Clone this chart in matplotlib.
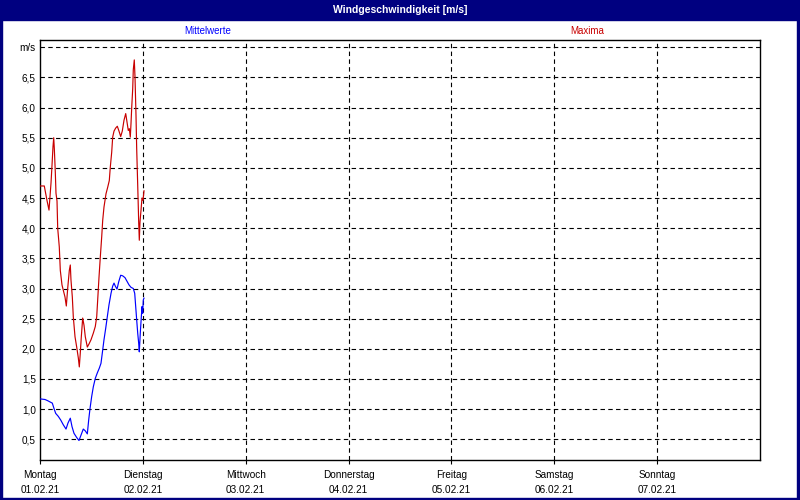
import matplotlib
matplotlib.use("Agg")
import matplotlib.pyplot as plt
from matplotlib.patches import Rectangle

# Stunden ab Montag 00:00 und Windwerte (m/s)
stundenMax = [0.0, 1.0, 1.63, 2.1, 2.57, 2.8, 3.03, 3.2, 3.34, 3.57, 3.73, 3.97, 4.13, 4.5,
              4.74, 5.13, 5.44, 5.83, 6.14, 6.46, 6.84, 7.07, 7.23, 7.54, 7.77, 8.17, 8.56,
              8.94, 9.17, 9.4, 9.64, 9.96, 10.27, 10.57, 11.04, 11.43, 11.9, 12.44, 12.9,
              13.23, 13.46, 13.77, 14.07, 14.4, 14.63, 14.93, 15.4, 15.8, 16.17, 16.4,
              16.73, 16.96, 17.27, 17.66, 18.04, 18.43, 18.83, 19.2, 19.6, 20.0, 20.3,
              20.6, 20.84, 21.07, 21.23, 21.4, 21.63, 21.77, 22.0, 22.17, 22.4, 22.56,
              22.8, 23.03, 23.17, 23.33, 23.57, 23.8, 24.03, 24.27]
maxima = [4.70, 4.70, 4.46, 4.30, 4.75, 5.04, 5.35, 5.50, 5.32, 4.93, 4.58, 4.45, 4.00, 3.69,
          3.30, 3.06, 2.97, 2.86, 2.71, 3.00, 3.30, 3.39, 3.14, 2.86, 2.53, 2.20, 2.03,
          1.85, 1.70, 1.93, 2.20, 2.51, 2.39, 2.20, 2.03, 2.08, 2.15, 2.26, 2.37,
          2.53, 2.81, 3.19, 3.52, 3.86, 4.13, 4.35, 4.57, 4.68, 4.79, 5.01,
          5.26, 5.51, 5.61, 5.66, 5.69, 5.61, 5.52, 5.61, 5.79, 5.90, 5.76,
          5.62, 5.65, 5.51, 5.73, 6.00, 6.31, 6.63, 6.79, 6.50, 5.87, 5.32,
          4.71, 4.10, 3.80, 4.10, 4.30, 4.50, 4.46, 4.62]

stundenMittel = [0.0, 1.17, 1.8, 2.33, 2.87, 3.27, 3.66, 4.27, 4.83, 5.44, 6.07, 6.53, 7.07,
                 7.47, 7.93, 8.56, 9.1, 9.57, 10.1, 10.57, 11.04, 11.36, 11.67, 12.06,
                 12.44, 12.9, 13.37, 13.84, 14.23, 14.54, 14.93, 15.33, 15.7, 16.1, 16.57,
                 16.96, 17.27, 17.57, 17.97, 18.36, 18.83, 19.3, 19.83, 20.3, 20.77, 21.23,
                 21.77, 22.1, 22.33, 22.56, 22.8, 23.03, 23.17, 23.4, 23.64, 23.8, 23.96,
                 24.1, 24.27]
mittelwerte = [1.17, 1.16, 1.14, 1.12, 1.10, 1.01, 0.93, 0.88, 0.82, 0.74, 0.67, 0.77, 0.85,
               0.71, 0.60, 0.53, 0.48, 0.57, 0.67, 0.64, 0.59, 0.82, 1.01, 1.21,
               1.37, 1.51, 1.60, 1.68, 1.76, 1.93, 2.15, 2.34, 2.53, 2.73, 2.92,
               3.04, 3.09, 3.04, 2.99, 3.11, 3.22, 3.21, 3.18, 3.12, 3.06, 3.02,
               3.00, 2.92, 2.70, 2.48, 2.26, 2.09, 1.95, 2.26, 2.53, 2.70, 2.59,
               2.81, 2.84]

tage = ["Montag", "Dienstag", "Mittwoch", "Donnerstag", "Freitag", "Samstag", "Sonntag"]
daten = ["01.02.21", "02.02.21", "03.02.21", "04.02.21", "05.02.21", "06.02.21", "07.02.21"]
yWerte = [0.5, 1.0, 1.5, 2.0, 2.5, 3.0, 3.5, 4.0, 4.5, 5.0, 5.5, 6.0, 6.5, 7.0]

NAVY = "#000080"
ROT = "#C80000"
BLAU = "#0000FF"

plt.rcParams["font.family"] = ["Liberation Sans", "DejaVu Sans"]

fig = plt.figure(figsize=(8, 5), dpi=100)
fig.patch.set_facecolor("white")

# Fensterrahmen und Titelleiste
fig.patches.append(Rectangle((0, 0.96), 1, 0.04, transform=fig.transFigure, color=NAVY, zorder=0))
fig.patches.append(Rectangle((0, 0), 0.0025, 1, transform=fig.transFigure, color=NAVY, zorder=0))
fig.patches.append(Rectangle((0.9965, 0), 0.0035, 1, transform=fig.transFigure, color=NAVY, zorder=0))
fig.patches.append(Rectangle((0, 0), 1, 0.005, transform=fig.transFigure, color=NAVY, zorder=0))
fig.text(0.5, 0.98, "Windgeschwindigkeit [m/s]", color="white", fontweight="bold",
         fontsize=7.5, ha="center", va="center")

fig.text(0.26, 0.938, "Mittelwerte", color=BLAU, fontsize=7, ha="center", va="center")
fig.text(0.734, 0.938, "Maxima", color=ROT, fontsize=7, ha="center", va="center")

ax = fig.add_axes([0.05, 0.08, 0.9, 0.84])
ax.set_facecolor("white")

xMax = [h / 24 for h in stundenMax]
xMittel = [h / 24 for h in stundenMittel]
ax.plot(xMax, maxima, color=ROT, linewidth=0.85, zorder=3)
ax.plot(xMittel, mittelwerte, color=BLAU, linewidth=0.85, zorder=3)

ax.set_xlim(0, 7)
ax.set_ylim(0.157, 7.12)

# Gitterlinien
for y in yWerte:
    ax.axhline(y, color="black", linewidth=0.8, linestyle=(0, (4, 3)), zorder=1)
for x in range(1, 7):
    ax.axvline(x, color="black", linewidth=0.8, linestyle=(0, (4, 3)), zorder=1)

ax.set_yticks(yWerte)
ylabels = [f"{v:.1f}".replace(".", ",") for v in yWerte[:-1]] + ["m/s"]
ax.set_yticklabels(ylabels)
ax.tick_params(axis="y", length=0, pad=3, labelsize=7.2)

ax.set_xticks(range(7))
ax.set_xticklabels([f"{t}\n{d}" for t, d in zip(tage, daten)], linespacing=1.6)
ax.tick_params(axis="x", length=3, width=0.8, pad=4, labelsize=7.2, direction="out")

for s in ax.spines.values():
    s.set_color("black")
    s.set_linewidth(1.0)

fig.savefig("out.png", dpi=100)
